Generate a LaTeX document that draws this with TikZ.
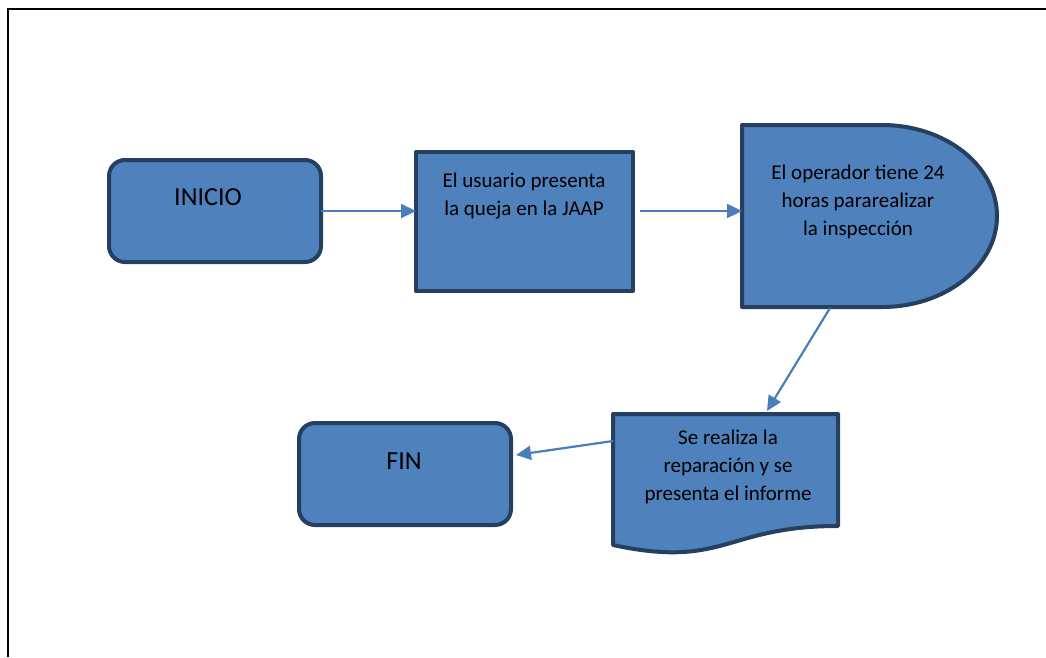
\documentclass[tikz,border=0pt]{standalone}
\usepackage{fontspec}
\setmainfont{Carlito}
\usetikzlibrary{arrows.meta}
\definecolor{boxfill}{HTML}{4F81BD}
\definecolor{boxline}{HTML}{243F60}
\definecolor{arrowcol}{HTML}{4A7EBB}
\begin{document}
\begin{tikzpicture}[x=1pt,y=-1pt,
  shapebox/.style={fill=boxfill,draw=boxline,line width=4pt,line join=round},
  lbl/.style={font=\fontsize{21}{28}\selectfont,align=center,inner sep=0pt},
  biglbl/.style={font=\fontsize{26}{30}\selectfont,inner sep=0pt},
  flow/.style={draw=arrowcol,line width=2.2pt,-{Triangle[length=15pt,width=14pt]}}]
\useasboundingbox (0,0) rectangle (1046,657);
% page frame (left and top edges)
\draw[line width=2.2pt] (8,657) -- (8,9) -- (1046,9);

% INICIO
\draw[shapebox,rounded corners=16pt] (109,160) rectangle (321,262);
\node[biglbl] (inicio) at (208,197) {INICIO};
\coordinate (inicioR) at (321,211);

% process box
\draw[shapebox] (416,152) rectangle (633,291);
\node[lbl] (queja) at (524,196) {El usuario presenta\\la queja en la JAAP};
\coordinate (quejaL) at (416,211);
\coordinate (quejaR) at (640,211);

% delay shape
\draw[shapebox] (742,125) -- (882,125)
  arc[start angle=90,end angle=-90,x radius=115pt,y radius=91pt]
  -- (742,307) -- cycle;
\node[lbl] (operador) at (858,202) {El operador tiene 24\\horas pararealizar\\la inspección};
\coordinate (operadorL) at (742,211);
\coordinate (operadorB) at (830,308);

% document shape
\draw[shapebox] (613,414) -- (838,414) -- (838,526)
  .. controls (725,526) and (725,569) .. (613,545) -- cycle;
\node[lbl] (informe) at (728,467) {Se realiza la\\reparación y se\\presenta el informe};
\coordinate (informeT) at (767,411);
\coordinate (informeL) at (613,441);

% FIN
\draw[shapebox,rounded corners=16pt] (299,423) rectangle (511,525);
\node[biglbl] (fin) at (404,461) {FIN};
\coordinate (finR) at (516,455);

% connectors
\draw[flow] (inicioR) -- (quejaL);
\draw[flow] (quejaR) -- (operadorL);
\draw[flow] (operadorB) -- (informeT);
\draw[flow] (informeL) -- (finR);
\end{tikzpicture}
\end{document}
